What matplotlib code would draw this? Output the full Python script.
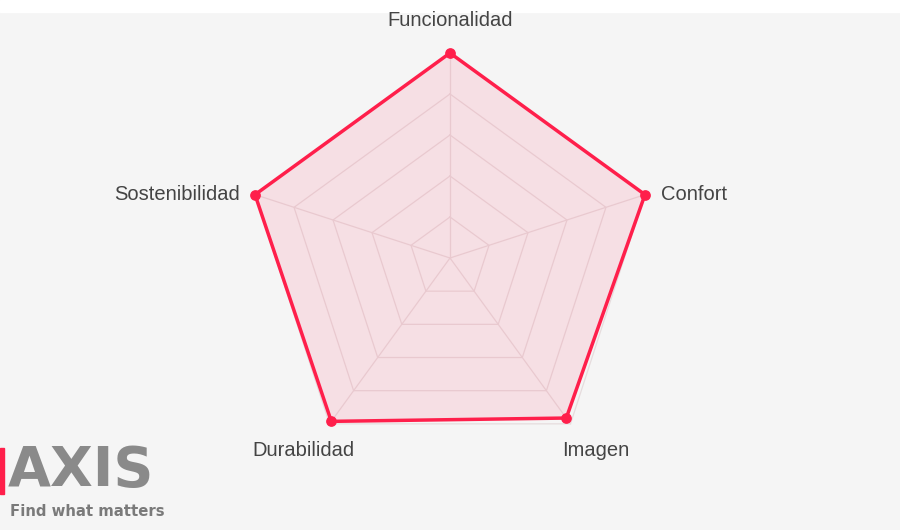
import numpy as np
import matplotlib.pyplot as plt
from matplotlib.patches import Polygon

categories = ["Funcionalidad", "Confort", "Imagen", "Durabilidad", "Sostenibilidad"]
values = [100, 100, 96.5, 98.5, 100]
ring_levels = [20, 40, 60, 80, 100]
max_value = 100

CX, CY, R = 450, 258, 205

fig = plt.figure(figsize=(9, 5.3), dpi=100)
fig.patch.set_facecolor("#f5f5f5")
ax = fig.add_axes([0, 0, 1, 1])
ax.set_xlim(0, 900)
ax.set_ylim(530, 0)
ax.axis("off")
ax.add_patch(plt.Rectangle((0, 0), 900, 12, color="white", zorder=0))

angles = np.pi / 2 - np.arange(len(categories)) * 2 * np.pi / len(categories)


def to_xy(vals):
    r = np.asarray(vals) / max_value * R
    return CX + r * np.cos(angles), CY - r * np.sin(angles)


# grid rings and spokes
for lvl in ring_levels:
    x, y = to_xy([lvl] * len(categories))
    ax.plot(np.append(x, x[0]), np.append(y, y[0]), color="#e6dcdd", lw=0.9, zorder=1)
ox, oy = to_xy([max_value] * len(categories))
for x, y in zip(ox, oy):
    ax.plot([CX, x], [CY, y], color="#e6dcdd", lw=0.9, zorder=1)

# data
x, y = to_xy(values)
ax.add_patch(Polygon(np.column_stack([x, y]), closed=True,
                     facecolor=(1, 0.39, 0.52, 0.15), edgecolor="none", zorder=2))
ax.plot(np.append(x, x[0]), np.append(y, y[0]), color="#ff1f4b", lw=2.5, zorder=3)
ax.scatter(x, y, s=45, color="#ff1f4b", zorder=4)

# labels
label_style = dict(fontsize=14.5, color="#444444", family="Liberation Sans")
ax.text(450, 21, categories[0], ha="center", va="center", **label_style)
ax.text(661, 195, categories[1], ha="left", va="center", **label_style)
ax.text(596, 450, categories[2], ha="center", va="center", **label_style)
ax.text(303, 450, categories[3], ha="center", va="center", **label_style)
ax.text(240, 195, categories[4], ha="right", va="center", **label_style)

# logo
ax.add_patch(plt.Rectangle((0, 448), 4, 46, color="#ff1f4b", zorder=2))
ax.text(8, 471, "AXIS", fontsize=40, fontweight="bold", color="#8a8a8a",
        ha="left", va="center", family="DejaVu Sans")
ax.text(10, 511, "Find what matters", fontsize=10.7, fontweight="bold", color="#7a7a7a",
        ha="left", va="center", family="DejaVu Sans")

fig.savefig("out.png", dpi=100, facecolor=fig.get_facecolor())
